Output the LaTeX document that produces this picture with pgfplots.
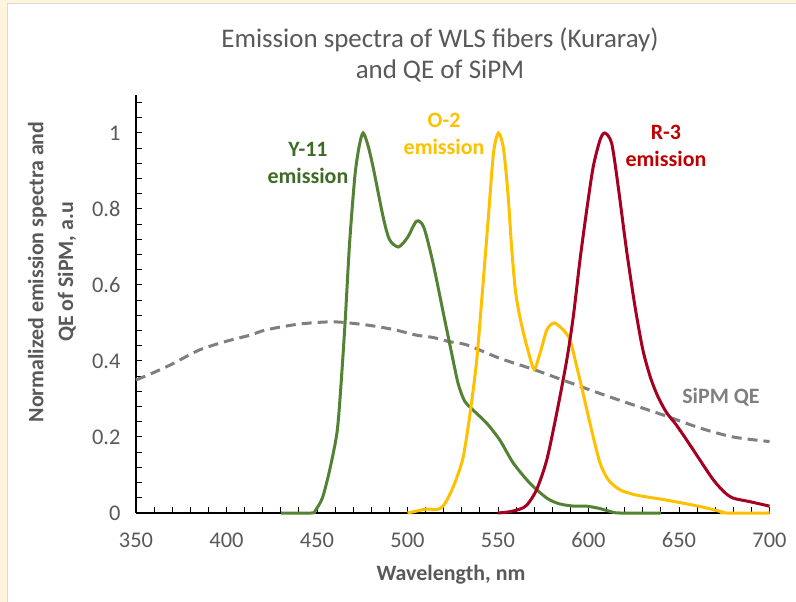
\documentclass[border=0pt]{standalone}
\usepackage{fontspec}
\setmainfont{Carlito}
\usepackage{pgfplots}
\pgfplotsset{compat=1.18}

\definecolor{framecream}{HTML}{FFF5DF}
\definecolor{frameline}{HTML}{D9D9D9}
\definecolor{txtgray}{HTML}{595959}
\definecolor{qegray}{HTML}{7F7F7F}
\definecolor{ygreen}{HTML}{548235}
\definecolor{ygreentxt}{HTML}{3E6B26}
\definecolor{oyellow}{HTML}{FFC000}
\definecolor{rred}{HTML}{A50021}
\definecolor{rredtxt}{HTML}{C00000}

\begin{document}
\begin{tikzpicture}[x=1bp,y=1bp]
% page background and frame
\path[use as bounding box] (0,0) rectangle (796,602);
\fill[framecream] (0,0) rectangle (796,602);
\fill[white] (7,0) rectangle (796,598);
\draw[frameline,line width=1bp] (7,0) -- (7,598) -- (796,598);

% title
\node[txtgray,font={\fontsize{27}{31}\selectfont},align=center] at (440,547)
  {Emission spectra of WLS fibers (Kuraray)\\and QE of SiPM};

\begin{axis}[
  at={(136bp,89bp)}, anchor=south west,
  width=633.5bp, height=418bp, scale only axis,
  xmin=350, xmax=700, ymin=0, ymax=1.1,
  axis x line*=bottom, axis y line*=left,
  axis line style={black,line width=1.2bp},
  xtick={350,400,...,700},
  minor xtick={360,370,...,690},
  ytick={0,0.2,0.4,0.6,0.8,1},
  minor ytick={0.04,0.08,...,1.09},
  tick align=inside,
  major tick length=6bp, minor tick length=6bp,
  tick style={black,line width=1bp},
  /pgf/number format/assume math mode=true,
  ticklabel style={font={\fontsize{22.5}{27}\selectfont},text=txtgray},
  xticklabel style={yshift=-16bp},
  yticklabel style={xshift=-12bp},
  clip=false,
]

% SiPM quantum efficiency
\addplot[qegray,line width=3bp,dash pattern=on 10bp off 6bp,smooth,tension=0.5] coordinates {
(350,0.35) (360,0.37) (370,0.392) (385,0.429) (400,0.452) (413,0.468)
(422,0.482) (440,0.497) (459,0.503) (477,0.495) (492,0.483) (505,0.468)
(514,0.462) (523,0.451) (533,0.442) (551,0.407) (569.5,0.378) (588,0.346)
(606,0.315) (625,0.284) (643,0.255) (662,0.223) (680,0.200) (700,0.188)
};

% Y-11 emission
\addplot[ygreen,line width=3bp,smooth,tension=0.45] coordinates {
(430,0) (447,0) (449,0.006) (453,0.04) (457,0.113) (461,0.21) (463,0.32)
(465.5,0.5) (468,0.71) (471,0.89) (473.5,0.97) (475.5,1.0) (478,0.97)
(481,0.91) (486.5,0.78) (490,0.72) (495,0.70) (500,0.725) (505,0.768)
(509,0.752) (514,0.66) (519.8,0.526) (524.4,0.42) (528,0.34) (531.5,0.295)
(536,0.272) (543.8,0.236) (551,0.192) (558.5,0.131) (567.7,0.078)
(577,0.039) (584,0.024) (592,0.018) (599,0.018) (606,0.012) (612,0.004)
(617,0) (640,0)
};

% O-2 emission
\addplot[oyellow,line width=3bp,smooth,tension=0.45] coordinates {
(500,0) (505,0.005) (510,0.01) (517,0.01) (520,0.02) (523.5,0.05) (527,0.09)
(530.8,0.148) (534.5,0.26) (538.2,0.40) (541,0.56) (544.7,0.78)
(547.5,0.947) (550.2,1.0) (553,0.96) (555.5,0.84) (557.5,0.70)
(559.5,0.59) (561.5,0.53) (564,0.475) (567,0.42) (570,0.378) (573.2,0.42)
(577,0.482) (581,0.50) (586,0.482) (589.8,0.455) (593.5,0.385) (597,0.315)
(601.7,0.218) (606.4,0.131) (611,0.087) (617.4,0.061) (626.6,0.047)
(643,0.034) (661.6,0.017) (674.5,0.002) (676,0) (700,0)
};

% R-3 emission
\addplot[rred,line width=3bp,smooth,tension=0.45] coordinates {
(550,0) (556,0.003) (562,0.01) (566,0.021) (571.3,0.061) (576.9,0.139)
(582.4,0.262) (588,0.403) (591.6,0.517) (595.3,0.666) (599,0.797)
(602.6,0.911) (606.4,0.982) (609,1.0) (612.8,0.973) (616.4,0.859)
(621,0.692) (625.7,0.543) (630,0.43) (634,0.36) (638,0.31) (643,0.265)
(648,0.235) (652.4,0.205) (657.9,0.166) (661.6,0.139) (669,0.087)
(675,0.055) (680,0.039) (689,0.030) (700,0.018)
};

% curve labels
\node[ygreentxt,font={\bfseries\fontsize{22}{27}\selectfont},align=center]
  at (axis cs:445,0.921) {Y-11\\emission};
\node[oyellow,font={\bfseries\fontsize{22}{27}\selectfont},align=center]
  at (axis cs:520.2,0.997) {O-2\\emission};
\node[rredtxt,font={\bfseries\fontsize{22}{27}\selectfont},align=center]
  at (axis cs:642.8,0.966) {R-3\\emission};
\node[qegray,font={\bfseries\fontsize{22}{27}\selectfont}]
  at (axis cs:673.2,0.305) {SiPM QE};
\end{axis}

% axis titles
\node[txtgray,font={\bfseries\fontsize{22}{26}\selectfont}] at (451,27) {Wavelength, nm};
\node[txtgray,font={\bfseries\fontsize{22}{30}\selectfont},align=center,rotate=90]
  at (52,330) {Normalized emission spectra and\\QE of SiPM, a.u};
\end{tikzpicture}
\end{document}
